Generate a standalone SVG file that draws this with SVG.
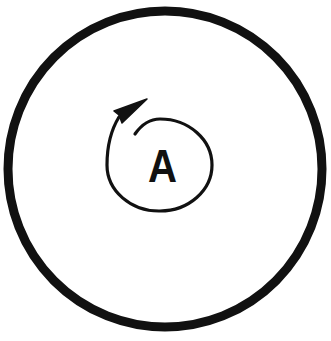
<svg xmlns="http://www.w3.org/2000/svg" width="331" height="341" viewBox="0 0 331 341">
<style>
.ink{fill:none;stroke:#111;stroke-linecap:round;stroke-linejoin:round}
.lbl{font-family:"Liberation Sans",Arial,sans-serif;font-weight:bold;fill:#111}
</style>
<rect width="331" height="341" fill="#fff"/>
<g id="outer">
<ellipse cx="165" cy="169" rx="157" ry="158" class="ink" stroke-width="9"/>
</g>
<g id="inner">
<path class="ink" stroke-width="3.2" d="M135,134 C142,124 150,119 160,119 A52 46 0 0 1 212,165 A52 46 0 0 1 160,211 A52 46 0 0 1 107,165 C107,148 111,130 119,117"/>
<polygon points="147,99 114,111 119,115 122,123" fill="#111" stroke="#111" stroke-width="1.5" stroke-linejoin="round"/>
<text class="lbl" x="162.5" y="182" font-size="47" text-anchor="middle" textLength="29" lengthAdjust="spacingAndGlyphs">A</text>
</g>
</svg>
